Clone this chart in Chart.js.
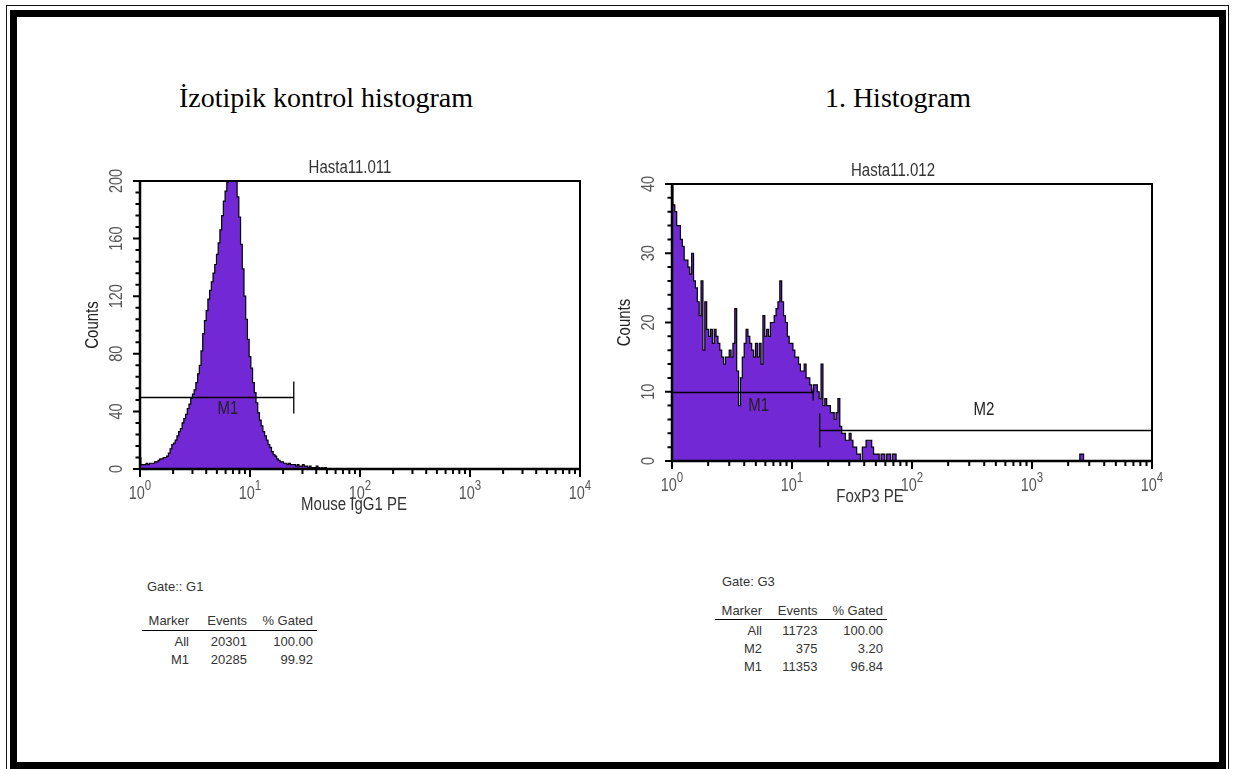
<!DOCTYPE html>
<html lang="tr">
<head>
<meta charset="utf-8">
<title>İzotipik kontrol / FoxP3 histogram</title>
<script src="https://cdn.jsdelivr.net/npm/chart.js@4.4.0/dist/chart.umd.min.js"></script>
<style>
  html, body { margin: 0; padding: 0; background: #fff; }
  body { position: relative; width: 1234px; height: 769px; overflow: hidden;
         font-family: "Liberation Sans", Arial, sans-serif; }
  .frame-outer { position: absolute; left: 6px; top: 5px; width: 1223px; height: 800px;
                 border: 1px solid #111; box-sizing: border-box; }
  .frame-inner { position: absolute; left: 10px; top: 10px; width: 1216px; height: 759px;
                 border: 7px solid #000; box-sizing: border-box; }
  .heading { position: absolute; top: 84px; font-family: "Liberation Serif", "Times New Roman", serif;
             font-size: 28px; line-height: 28px; white-space: nowrap; transform: translateX(-50%); color: #000; }
  canvas { position: absolute; }
  .st { position: absolute; font-size: 13px; line-height: 13px; white-space: nowrap; color: #333; }
  .st-line { position: absolute; height: 0; border-top: 1.5px solid #000; }
</style>
</head>
<body>
<div class="frame-outer"></div>
<div class="frame-inner"></div>

<div class="heading" style="left:326px">İzotipik kontrol histogram</div>
<div class="heading" style="left:898px">1. Histogram</div>

<canvas id="izotip" width="580" height="380" style="left:40px; top:140px"></canvas>
<canvas id="foxp3" width="600" height="380" style="left:600px; top:140px"></canvas>

<script>
// 64 channels per decade, 4 decades (256 channel log histogram)
const CHANNELS_PER_DECADE = 64;

// Hasta11.011 - Mouse IgG1 PE, counts per channel from channel 0
const izotipCounts = [
  8, 3, 3, 3, 4, 3, 4, 4, 4, 5,
  5, 6, 7, 7, 8, 8, 9, 11, 14, 17,
  18, 20, 23, 26, 28, 32, 35, 38, 42, 45,
  49, 52, 55, 60, 66, 72, 82, 94, 103, 110,
  118, 124, 130, 136, 142, 149, 157, 166, 176, 186,
  193, 199, 203, 206, 204, 207, 201, 189, 175, 156,
  139, 120, 104, 90, 78, 70, 60, 53, 46, 39,
  34, 30, 26, 23, 20, 17, 15, 12, 10, 9,
  7, 6, 5, 5, 4, 4, 3, 4, 3, 3,
  3, 2, 3, 2, 2, 3, 2, 2, 1, 2,
  1, 1, 1, 2, 1, 0, 1, 0, 1, 0,
  0
];
const izotipYTicks = [0, 40, 80, 120, 160, 200];
const izotipYMinor = 8;
const izotipMarkers = [
  { name: 'M1', from: 1, to: 25, level: 50 }
];

// Hasta11.012 - FoxP3 PE
const foxp3Counts = [
  41, 37, 36, 34, 34, 32, 31, 29, 29, 28,
  27, 30, 26, 25, 23, 21, 26, 16, 23, 19,
  18, 19, 17, 19, 18, 17, 16, 15, 14, 15,
  15, 16, 15, 17, 22, 13, 8, 12, 15, 17,
  19, 18, 17, 16, 15, 17, 15, 17, 14, 21,
  18, 19, 18, 20, 20, 21, 22, 23, 26, 23,
  21, 20, 18, 17, 17, 16, 15, 15, 14, 13,
  13, 14, 12, 12, 11, 10, 11, 11, 10, 9,
  14, 8, 9, 8, 8, 7, 7, 6, 7, 9,
  5, 4, 4, 3, 3, 4, 3, 2, 2, 1,
  1, 0, 2, 2, 3, 3, 3, 2, 1, 1,
  1, 0, 1, 1, 0, 1, 1, 0, 1, 1,
  0
];
// a few bright events far out on the axis
const foxp3FarChannels = [217, 218, 219, 220];
const foxp3FarCounts = [0, 1, 1, 0];
const foxp3YTicks = [0, 10, 20, 30, 40];
const foxp3YMinor = 2;
const foxp3Markers = [
  { name: 'M1', from: 1, to: 15, level: 10 },
  { name: 'M2', from: 17, to: 10000, level: 4.5 }
];

const decadeTicks = [1, 10, 100, 1000, 10000];

// marker statistics
const statsHeader = ['Marker', 'Events', '% Gated'];
const izotipGate = 'Gate:: G1';
const izotipRows = [['All', '20301', '100.00'], ['M1', '20285', '99.92']];
const foxp3Gate = 'Gate: G3';
const foxp3Rows = [['All', '11723', '100.00'], ['M2', '375', '3.20'], ['M1', '11353', '96.84']];

const PURPLE = '#7328d5';
const FONT = '"Liberation Sans", Arial, sans-serif';

function channelValue(ch) {
  return Math.pow(10, ch / CHANNELS_PER_DECADE);
}

function toPoints(counts, startCh) {
  return counts.map((c, i) => ({ x: channelValue(startCh + i), y: c }));
}

// CellQuest-style text: narrow and tall glyphs
function tallText(ctx, text, x, y, angle, size, color, align) {
  ctx.save();
  ctx.translate(x, y);
  ctx.rotate(angle);
  ctx.scale(1, 1.25);
  ctx.font = size + 'px ' + FONT;
  ctx.fillStyle = color;
  ctx.textAlign = align || 'center';
  ctx.textBaseline = 'middle';
  ctx.fillText(text, 0, 0);
  ctx.restore();
}

// "10" with a raised exponent, centred on x
function powerLabel(ctx, x, baseY, exp) {
  ctx.save();
  ctx.translate(x, baseY);
  ctx.scale(1, 1.25);
  ctx.fillStyle = '#555';
  ctx.textBaseline = 'alphabetic';
  ctx.textAlign = 'left';
  ctx.font = '14.5px ' + FONT;
  const w1 = ctx.measureText('10').width;
  ctx.font = '11.5px ' + FONT;
  const w2 = ctx.measureText(String(exp)).width;
  const x0 = -(w1 + w2) / 2;
  ctx.font = '14.5px ' + FONT;
  ctx.fillText('10', x0, 0);
  ctx.font = '11.5px ' + FONT;
  ctx.fillText(String(exp), x0 + w1, -7);
  ctx.restore();
}

function cellQuestAxes(cfg) {
  return {
    id: 'cqAxes',
    afterDatasetsDraw(chart) {
      const { ctx, chartArea: a, scales: { x, y } } = chart;
      ctx.save();
      ctx.strokeStyle = '#000';

      // gate markers
      ctx.lineWidth = 1.3;
      cfg.markers.forEach((m, i) => {
        const st = cfg.markerStyle[i];
        const x1 = x.getPixelForValue(m.from);
        const x2 = x.getPixelForValue(m.to);
        const yy = Math.round(y.getPixelForValue(m.level)) + 0.5;
        ctx.beginPath();
        ctx.moveTo(x1, yy); ctx.lineTo(x2, yy);
        ctx.moveTo(x1, yy - st.up); ctx.lineTo(x1, yy + st.down);
        ctx.moveTo(x2, yy - st.up); ctx.lineTo(x2, yy + st.down);
        ctx.stroke();
        const mid = Math.sqrt(m.from * m.to);
        tallText(ctx, m.name, x.getPixelForValue(mid) + st.dx, yy + st.dy, 0, 15, '#222');
      });

      // plot frame
      ctx.lineWidth = 2;
      ctx.beginPath();
      ctx.moveTo(a.left, a.top); ctx.lineTo(a.right, a.top); ctx.lineTo(a.right, a.bottom);
      ctx.stroke();
      ctx.lineWidth = 2.5;
      ctx.beginPath();
      ctx.moveTo(a.left, a.top - 1); ctx.lineTo(a.left, a.bottom); ctx.lineTo(a.right + 1, a.bottom);
      ctx.stroke();

      // tick marks
      ctx.lineWidth = 2;
      ctx.beginPath();
      decadeTicks.forEach(v => {
        const px = x.getPixelForValue(v);
        ctx.moveTo(px, a.bottom); ctx.lineTo(px, a.bottom + 8);
      });
      decadeTicks.slice(0, -1).forEach(d => {
        for (let k = 2; k < 10; k++) {
          const px = x.getPixelForValue(d * k);
          ctx.moveTo(px, a.bottom); ctx.lineTo(px, a.bottom + 5);
        }
      });
      const yMax = cfg.yTicks[cfg.yTicks.length - 1];
      for (let v = 0; v <= yMax; v += cfg.yMinor) {
        const py = y.getPixelForValue(v);
        ctx.moveTo(a.left, py); ctx.lineTo(a.left - 4.5, py);
      }
      cfg.yTicks.forEach(v => {
        const py = y.getPixelForValue(v);
        ctx.moveTo(a.left, py); ctx.lineTo(a.left - 7, py);
      });
      ctx.stroke();

      // tick labels
      decadeTicks.forEach((v, i) => powerLabel(ctx, x.getPixelForValue(v), a.bottom + 30, i));
      cfg.yTicks.forEach(v => {
        tallText(ctx, String(v), a.left - 23, y.getPixelForValue(v), -Math.PI / 2, 14.5, '#555');
      });

      // titles
      const cx = (a.left + a.right) / 2;
      tallText(ctx, cfg.title, cx + cfg.titleDx, a.top - 13, 0, 15, '#333');
      tallText(ctx, cfg.xTitle, cx + cfg.xTitleDx, a.bottom + 36, 0, 15, '#333');
      tallText(ctx, 'Counts', a.left - 47, (a.top + a.bottom) / 2, -Math.PI / 2, 15, '#222');
      ctx.restore();
    }
  };
}

function histogram(canvasId, points, yMax, pad, axesCfg) {
  return new Chart(document.getElementById(canvasId), {
    type: 'line',
    data: {
      datasets: [{
        data: points,
        stepped: 'middle',
        fill: 'origin',
        backgroundColor: PURPLE,
        borderColor: '#000',
        borderWidth: 1.2,
        pointRadius: 0
      }]
    },
    options: {
      responsive: false,
      animation: false,
      events: [],
      layout: { padding: pad },
      scales: {
        x: { type: 'logarithmic', min: 1, max: 10000, display: false },
        y: { type: 'linear', min: 0, max: yMax, display: false }
      },
      plugins: { legend: { display: false }, tooltip: { enabled: false } }
    },
    plugins: [cellQuestAxes(axesCfg)]
  });
}

histogram('izotip', toPoints(izotipCounts, 0), 200,
  { left: 100, right: 40, top: 41, bottom: 51 },
  {
    title: 'Hasta11.011', titleDx: -10,
    xTitle: 'Mouse IgG1 PE', xTitleDx: -6,
    yTicks: izotipYTicks, yMinor: izotipYMinor,
    markers: izotipMarkers,
    markerStyle: [{ up: 16, down: 16, dx: 11, dy: 11 }]
  });

const foxp3Points = toPoints(foxp3Counts, 0).concat(
  foxp3FarChannels.map((ch, i) => ({ x: channelValue(ch), y: foxp3FarCounts[i] })));

histogram('foxp3', foxp3Points, 40,
  { left: 72, right: 48, top: 44, bottom: 59 },
  {
    title: 'Hasta11.012', titleDx: -19,
    xTitle: 'FoxP3 PE', xTitleDx: -42,
    yTicks: foxp3YTicks, yMinor: foxp3YMinor,
    markers: foxp3Markers,
    markerStyle: [{ up: 4, down: 8, dx: 16, dy: 13 }, { up: 17, down: 17, dx: -2, dy: -21 }]
  });

// statistics tables under each plot
function addText(text, x, top, align) {
  const el = document.createElement('div');
  el.className = 'st';
  el.textContent = text;
  el.style.top = top + 'px';
  if (align === 'right') el.style.right = (1234 - x) + 'px';
  else el.style.left = x + 'px';
  document.body.appendChild(el);
}

function statsBlock(gate, rows, box) {
  addText(gate, box.gateX, box.gateTop, 'left');
  statsHeader.forEach((h, i) => addText(h, box.cols[i], box.headTop, 'right'));
  const line = document.createElement('div');
  line.className = 'st-line';
  line.style.left = box.lineX1 + 'px';
  line.style.width = (box.lineX2 - box.lineX1) + 'px';
  line.style.top = box.lineY + 'px';
  document.body.appendChild(line);
  rows.forEach((r, j) => r.forEach((c, i) => addText(c, box.cols[i], box.rowTop + j * box.rowStep, 'right')));
}

statsBlock(izotipGate, izotipRows, {
  gateX: 147, gateTop: 580, headTop: 614, lineY: 630, lineX1: 142, lineX2: 317,
  rowTop: 635, rowStep: 17.5, cols: [189, 247, 313]
});
statsBlock(foxp3Gate, foxp3Rows, {
  gateX: 722, gateTop: 575, headTop: 604, lineY: 619, lineX1: 715, lineX2: 887,
  rowTop: 624, rowStep: 18, cols: [762, 817.5, 883]
});
</script>
</body>
</html>
